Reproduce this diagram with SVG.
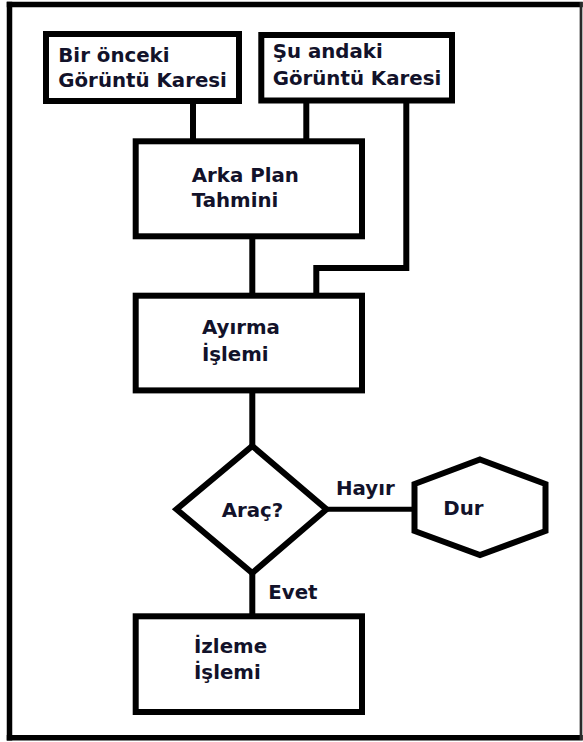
<svg xmlns="http://www.w3.org/2000/svg" width="583" height="742" viewBox="0 0 583 742">
<style>
.n{fill:#fff;stroke:#000;stroke-width:6;stroke-linejoin:miter}
.c{fill:none;stroke:#000;stroke-width:6;stroke-linecap:butt;stroke-linejoin:miter}
.f{stroke:#000;stroke-width:5.5;stroke-linecap:square}
.t{font-family:"DejaVu Sans","Liberation Sans",sans-serif;font-weight:bold;font-size:19.8px;fill:#12122a}
</style>
<rect x="0" y="0" width="583" height="742" fill="#fff"/>
<g id="frame">
<line class="f" x1="9.5" y1="4.5" x2="580" y2="4.5"/>
<line class="f" x1="9.5" y1="4.5" x2="9.5" y2="737.8"/>
<line class="f" x1="9.5" y1="737.8" x2="580" y2="737.8"/>
<line x1="581" y1="2" x2="581" y2="740" stroke="#2a2a2a" stroke-width="2.7"/>
</g>
<g id="connectors">
<line class="c" x1="193" y1="101" x2="193" y2="141"/>
<line class="c" x1="306.3" y1="101" x2="306.3" y2="141"/>
<polyline class="c" points="406.3,101 406.3,268 316.3,268 316.3,296"/>
<line class="c" x1="252.3" y1="236" x2="252.3" y2="296"/>
<line class="c" x1="252.3" y1="390" x2="252.3" y2="446"/>
<line class="c" x1="326" y1="509.3" x2="414.5" y2="509.3" style="stroke-width:5"/>
<line class="c" x1="252.3" y1="573" x2="252.3" y2="617"/>
<text class="t" x="336" y="495">Hayır</text>
<text class="t" x="268.3" y="599.3">Evet</text>
</g>
<g id="n1">
<rect class="n" x="46" y="34" width="193" height="67"/>
<text class="t" x="58.3" y="61.7">Bir önceki</text>
<text class="t" x="58.3" y="86.7">Görüntü Karesi</text>
</g>
<g id="n2">
<rect class="n" x="261.3" y="35" width="190.7" height="65.5"/>
<text class="t" x="272.7" y="58.3">Şu andaki</text>
<text class="t" x="272.7" y="85">Görüntü Karesi</text>
</g>
<g id="n3">
<rect class="n" x="135.7" y="141.3" width="226.3" height="95"/>
<text class="t" x="191.7" y="181.7">Arka Plan</text>
<text class="t" x="191.7" y="207.3">Tahmini</text>
</g>
<g id="n4">
<rect class="n" x="135.7" y="295.7" width="226.3" height="94.7"/>
<text class="t" x="201.9" y="334.3">Ayırma</text>
<text class="t" x="201.9" y="361">İşlemi</text>
</g>
<g id="n5">
<polygon class="n" points="252.3,446 326.5,509.3 252.3,573 176.5,509.3"/>
<text class="t" x="221.7" y="517.3">Araç?</text>
</g>
<g id="n6">
<polygon class="n" points="480,459.5 545.5,484 545.5,531 480,555 414.5,531 414.5,484"/>
<text class="t" x="443.3" y="515">Dur</text>
</g>
<g id="n7">
<rect class="n" x="135.7" y="616.3" width="226.3" height="95.7"/>
<text class="t" x="194" y="652.7">İzleme</text>
<text class="t" x="194" y="679.3">İşlemi</text>
</g>
</svg>
